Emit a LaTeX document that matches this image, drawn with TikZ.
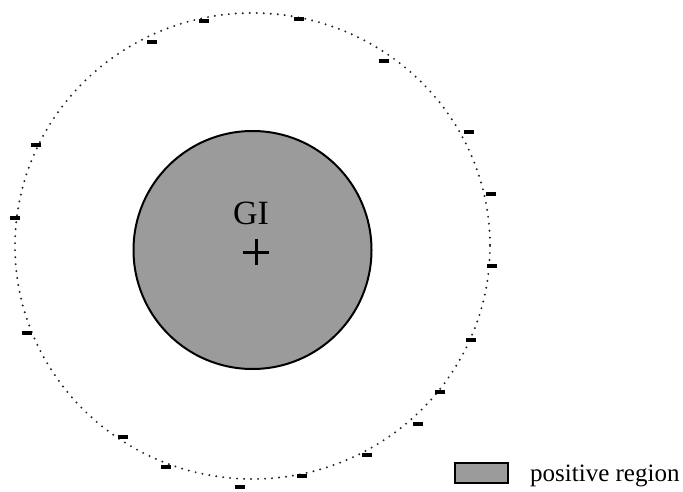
\documentclass[tikz,border=0pt]{standalone}
\usepackage{fontspec}
\setmainfont{Liberation Serif}
\definecolor{regiongray}{RGB}{155,155,155}
\tikzset{
  outerring/.style={draw=black!85, line width=2.2pt, line cap=round, dash pattern=on 0pt off 7pt},
  posregion/.style={draw=black, line width=2pt, fill=regiongray},
  minusmark/.style={fill=black, inner sep=0pt, minimum width=10pt, minimum height=3.2pt, rectangle},
  plusmark/.style={line width=3pt},
  lbl/.style={font=\fontsize{34}{36}\selectfont, inner sep=0pt},
  legendtext/.style={font=\fontsize{25}{28}\selectfont, inner sep=0pt, anchor=base west},
}
\begin{document}
\begin{tikzpicture}[x=1pt,y=-1pt]
\useasboundingbox (0,0) rectangle (683,492);
% outer dotted ring
\draw[outerring] (252.5,246) ellipse [x radius=237.5, y radius=233];
% positive region
\node[posregion, circle, minimum size=238pt, inner sep=0pt] (gi) at (252.5,250) {};
\node[lbl] (gilabel) at (251,213) {GI};
\coordinate (pc) at (256,252);
\draw[plusmark] ([xshift=-13pt]pc) -- ([xshift=13pt]pc);
\draw[plusmark] ([yshift=-13pt]pc) -- ([yshift=13pt]pc);
% minus marks
\foreach \i/\x/\y in {1/204/21, 2/299/19, 3/152/42, 4/384/61,
  5/36/145, 6/15/218, 7/27/333,
  8/469/132, 9/491/194, 10/492/266, 11/471/340,
  12/123/437, 13/166/467, 14/240/487, 15/302/476, 16/367/455, 17/418/424, 18/440/392}
  \node[minusmark] (m\i) at (\x,\y) {};
% legend
\node[posregion, rectangle, minimum width=53pt, minimum height=20pt, inner sep=0pt, line width=2pt] (legbox) at (481.5,472.5) {};
\node[legendtext] (legtext) at (530,481.5) {positive region};
\end{tikzpicture}
\end{document}
